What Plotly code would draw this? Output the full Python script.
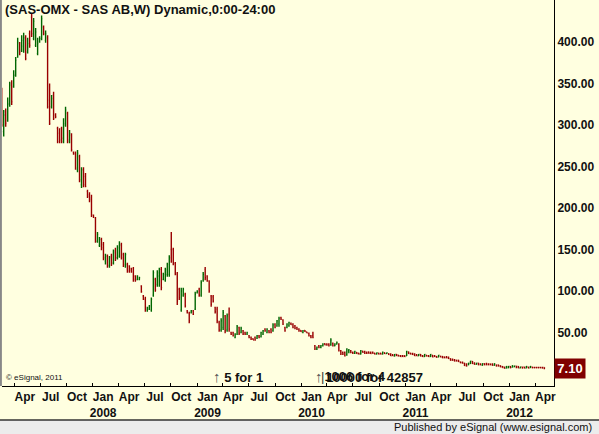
import pandas as pd
import plotly.graph_objects as go

opens = [340,292,316,305,326,350,346,360,382,398,390,395,405,388,410,430,404,396,386,400,404,418,402,405,330,322,336,312,296,290,
         296,280,300,314,280,288,267,266,246,262,228,246,238,220,216,212,191,188,160,155,162,156,136,142,130,142,134,148,140,142,156,144,130,132,130,127,127,118,114,114,106,94,90,76,78,77,95,114,108,118,126,114,113,120,120,150,150,133,120,102,77,95,96,76,73,74,76,78,98,102,95,113,126,118,112,94,93,80,78,62,
         53,56,70,53,72,50,50,44,48,56,50,52,50,48,46,44,42.5,44,43,46,45,48,54,50,52,54,52,60,58,60,68,65,56,56,58,61,60,58,56,54,52.5,50,52.5,50.5,49,46,46,34,30,34,32,34,36.5,36,36,35,37,34,36,
         36,28,26,26,23,28,28,26,25,26,25,24,27.5,27,26,26.5,26,26,25,24,25,25,24,25.5,24.5,24.5,24,23,21.5,23.5,22.5,22,22,22,22,26.5,25,24.5,24,23,22,23.5,22,21,22.5,22,21,22.5,22,21,20.5,21.5,21,20.5,20.5,20,18.5,17.5,17,16.5,16.5,14.5,14,13,12,11,12.5,15,13,11.5,13,12,10.5,12.5,12.5,12,12,12,10.5,11,11,10,9,8.5,7,7.5,9,8,8.5,9.5,9,7.2,8.5,8.5,7.2,8.5,7.5,8.5,8,8,8,8,8,7.8]
highs = [345,318,320,333,352,354,366,382,405,400,408,411,408,405,414,435,429,417,405,407,432,420,414,408,350,336,340,314,298,296,
         298,308,322,316,294,290,268,268,270,264,249,249,242,222,219,216,192,189,171,165,164,159,145,144,142,145,150,152,155,160,158,146,146,134,131,128,129,119,119,117,107,95,93,81,83,92,125,116,125,128,129,122,128,134,143,171,152,135,123,104,104,104,98,77,75,77,77,99,101,104,113,123,129,119,113,95,95,81,81,64,
         67,77,71,73,80,51,51,49,59,57,57,53,51,51,47,45,43,45,47,47,51,53,55,55,53,55,61,61,65,69,69,66,57,61,63,62,61,59,57,55,53,53,53,51,50,47,51,35,33,35,35,37,37,37,37,43,38,37,39,
         37,29,27,27,31,30,29,27,28,26.5,25.5,29,28,28,27,27,27,27,25.5,26,25.5,25.5,27,26,26,25,25,24,24,24,23,23,23,22.5,28,27,25.5,25.5,25,24,24,24,23,24,23,23,24,23,23,21.5,23,22,21.5,21,21.5,21,19,18.5,18,17,17,15,15,13.5,13,13.5,16,15.5,14,13.5,13.5,13,13,13,13.5,13,12.5,13,13,11.5,11.5,10.5,9.5,8.8,9.5,9.5,9.5,10.5,10,9.8,9.5,8.8,8.8,8.8,9.5,8.8,9.5,8.8,8.8,8.8,8.8,8.8,8.8,8]
lows = [298,286,298,304,322,324,345,358,381,384,388,387,378,386,393,406,402,394,384,399,402,408,399,320,300,320,306,308,278,278,
        278,278,298,278,278,268,264,246,243,231,224,225,225,212,207,189,188,158,158,153,149,137,132,128,128,130,132,136,138,140,138,129,128,122,122,122,111,111,113,113,98,89,75,75,77,75,93,99,105,105,101,113,111,117,117,134,131,119,83,89,75,93,80,73,61,73,71,77,97,93,93,111,113,111,98,81,86,73,61,51,
        51,53,49,51,51,47,45,43,47,47,49,47,47,47,43,41,41,40,42,43,44,47,51,49,49,49,51,55,57,57,65,59,51,55,57,59,55,54,53,51,50.5,49,50.5,49,45,43,43,29,29,31,31,33,34.5,34,33,34,33,33.5,35.5,
        27,23,23,21,22,25,25,24,24,24,23.5,23.5,25.5,24,24,24.5,24,24.5,23.5,23.5,23.5,23.5,23.5,24,24,23,21.5,21.5,21,21.5,21,20.5,20.5,20.5,21.5,24,23.5,23,21.5,21.5,21.5,21,20.5,20.5,21,20.5,20.5,20,20.5,19.5,20,20,19,19,19,18,16,16,15,15,14.5,13,12.5,9.5,9,10.5,12,12,11,11,10.5,10.5,10,10.5,10.5,10.5,10.5,10,10,9,9,8,7.5,6.5,6.5,7,7,7.8,8,7,7,7,6.5,7,7,6.8,7.3,7,7,7,7,7,6.5,5.7]
closes = [300,312,302,325,348,328,360,378,400,388,402,405,380,398,396,410,425,412,398,404,428,410,410,322,302,332,308,310,280,282,
          284,302,318,282,290,270,265,248,266,234,246,228,226,214,210,192,189,160,168,162,152,140,142,131,140,133,146,140,152,155,140,132,144,124,125,123,114,113,118,116,99,90,78,80,82,90,122,101,122,126,104,120,126,132,140,136,134,121,88,92,100,102,82,74,64,76,72,96,100,95,110,120,116,112,100,84,88,75,64,53,
          64,74,52,70,54,48,46,48,57,49,55,48,48,50,44,42,41,41,46,44,50,52,52,54,50,50,59,56,64,67,66,60,52,60,62,59.5,56,55,54,52,51,52,51,49.5,46,44,44,30,32,32,34,36,35,35,34,41,34,36,38,
          28,24,24,22,30,29,26,25,27,24.5,24,28,26,25,25,25,24.5,25,24,25.5,24,24,26,24.5,25.5,23.5,22,22,23.5,22,21.5,21,21,21,27,24.5,24,23.5,22,22,23.5,21.5,21,23.5,21.5,21,23.5,20.5,21,20,22.5,20.5,19.5,19.5,19.5,18.5,16.5,16.5,15.5,15.5,15,13.5,13,10,9.5,13,15.5,12.5,11.5,13,11,11,12.5,11,11,11,11,10.5,12.5,9.5,9.5,8.5,7.8,6.8,9,9.2,7.5,10,9.8,7.8,7.5,8.5,7,7.2,9,7,9,7.5,7.5,7.5,7.5,7.4,7.2,7.1]

dates = pd.date_range(end="2012-05-03", periods=len(closes), freq="7D")

tick_dates = ["2007-04-01", "2007-07-01", "2007-10-01", "2008-01-01", "2008-04-01", "2008-07-01",
              "2008-10-01", "2009-01-01", "2009-04-01", "2009-07-01", "2009-10-01", "2010-01-01",
              "2010-04-01", "2010-07-01", "2010-10-01", "2011-01-01", "2011-04-01", "2011-07-01",
              "2011-10-01", "2012-01-01", "2012-04-01"]
tick_text = ["Apr", "Jul", "Oct", "Jan<br>2008", "Apr", "Jul", "Oct", "Jan<br>2009", "Apr", "Jul", "Oct",
             "Jan<br>2010", "Apr", "Jul", "Oct", "Jan<br>2011", "Apr", "Jul", "Oct", "Jan<br>2012", "Apr"]
y_ticks = [0, 50, 100, 150, 200, 250, 300, 350, 400]
last_price = "7.10"

label_pos = [pd.Timestamp(d) + pd.Timedelta(days=36) for d in tick_dates]

BG = "#FFFFE0"
fig = go.Figure(go.Ohlc(
    x=dates, open=opens, high=highs, low=lows, close=closes,
    increasing=dict(line=dict(color="#006600", width=1.4)),
    decreasing=dict(line=dict(color="#990000", width=1.4)),
    tickwidth=0.4, hoverinfo="skip"))

fig.update_layout(
    width=599, height=434, margin=dict(l=2, r=45, t=0, b=48),
    paper_bgcolor=BG, plot_bgcolor=BG, showlegend=False,
    font=dict(family="Liberation Sans, Arial, sans-serif", color="#000"),
    xaxis=dict(type="date", range=["2007-02-16", "2012-06-06"], rangeslider=dict(visible=False),
               tickvals=label_pos, ticktext=tick_text, ticks="", showgrid=False, tickangle=0,
               showline=True, linecolor="#000", linewidth=1, zeroline=False,
               tickfont=dict(size=12, weight="bold", color="#111"),
               minor=dict(tickvals=tick_dates, ticks="inside", ticklen=3, tickcolor="#000", showgrid=False)),
    yaxis=dict(side="right", range=[-14.5, 450.6], tickvals=y_ticks,
               ticktext=[f"{v:.2f}" for v in y_ticks], ticks="", showgrid=False, zeroline=False,
               showline=True, linecolor="#000", linewidth=1,
               tickfont=dict(size=12, weight="bold", color="#111")),
)

fig.add_shape(type="rect", xref="paper", yref="paper", x0=-0.01, x1=1.09, y0=-0.125, y1=-0.0881,
              fillcolor="#ECECEC", line=dict(width=0), layer="above")
fig.add_shape(type="line", xref="paper", yref="paper", x0=-0.01, x1=1.09, y0=-0.0881, y1=-0.0881,
              line=dict(color="#333", width=1.5), layer="above")
fig.add_shape(type="line", xref="paper", yref="paper", x0=-0.002, x1=-0.002, y0=0, y1=1,
              line=dict(color="#888", width=2), layer="above")

fig.add_annotation(xref="paper", yref="paper", x=0.002, y=0.999, xanchor="left", yanchor="top",
                   text="<b>(SAS-OMX - SAS AB,W) Dynamic,0:00-24:00</b>", showarrow=False,
                   font=dict(size=13, color="#111"))
fig.add_annotation(xref="paper", yref="paper", x=0.004, y=0.022, xanchor="left", yanchor="middle",
                   text="© eSignal, 2011", showarrow=False, font=dict(size=8, color="#111"))
fig.add_annotation(xref="x", yref="paper", x="2009-02-20", y=0.024, xanchor="left", yanchor="middle",
                   text="<span style='color:#555;font-size:15px'>↑</span> <b>5 for 1</b>", showarrow=False,
                   font=dict(size=13, color="#111"))
fig.add_annotation(xref="x", yref="paper", x="2010-02-12", y=0.024, xanchor="left", yanchor="middle",
                   text="<span style='color:#555;font-size:15px'>↑</span> <b>10000 for 42857</b>", showarrow=False,
                   font=dict(size=13, color="#111"))
fig.add_annotation(xref="x", yref="paper", x="2010-03-05", y=0.024, xanchor="left", yanchor="middle",
                   text="<span style='color:#333'>|</span><b>1006 for 4</b>", showarrow=False,
                   font=dict(size=13, color="#111"))
fig.add_annotation(xref="paper", yref="y", x=1.0, y=7.1, xanchor="left", yanchor="middle",
                   text="<b>" + last_price + "</b>", showarrow=False, bgcolor="#800000",
                   font=dict(size=13, color="#fff"), borderpad=2, width=26)
fig.add_annotation(xref="paper", yref="paper", x=1.072, y=-0.106, xanchor="right", yanchor="middle",
                   text="Published by eSignal (www.esignal.com)", showarrow=False,
                   font=dict(size=11, color="#111"))

fig.write_html("out.html")
